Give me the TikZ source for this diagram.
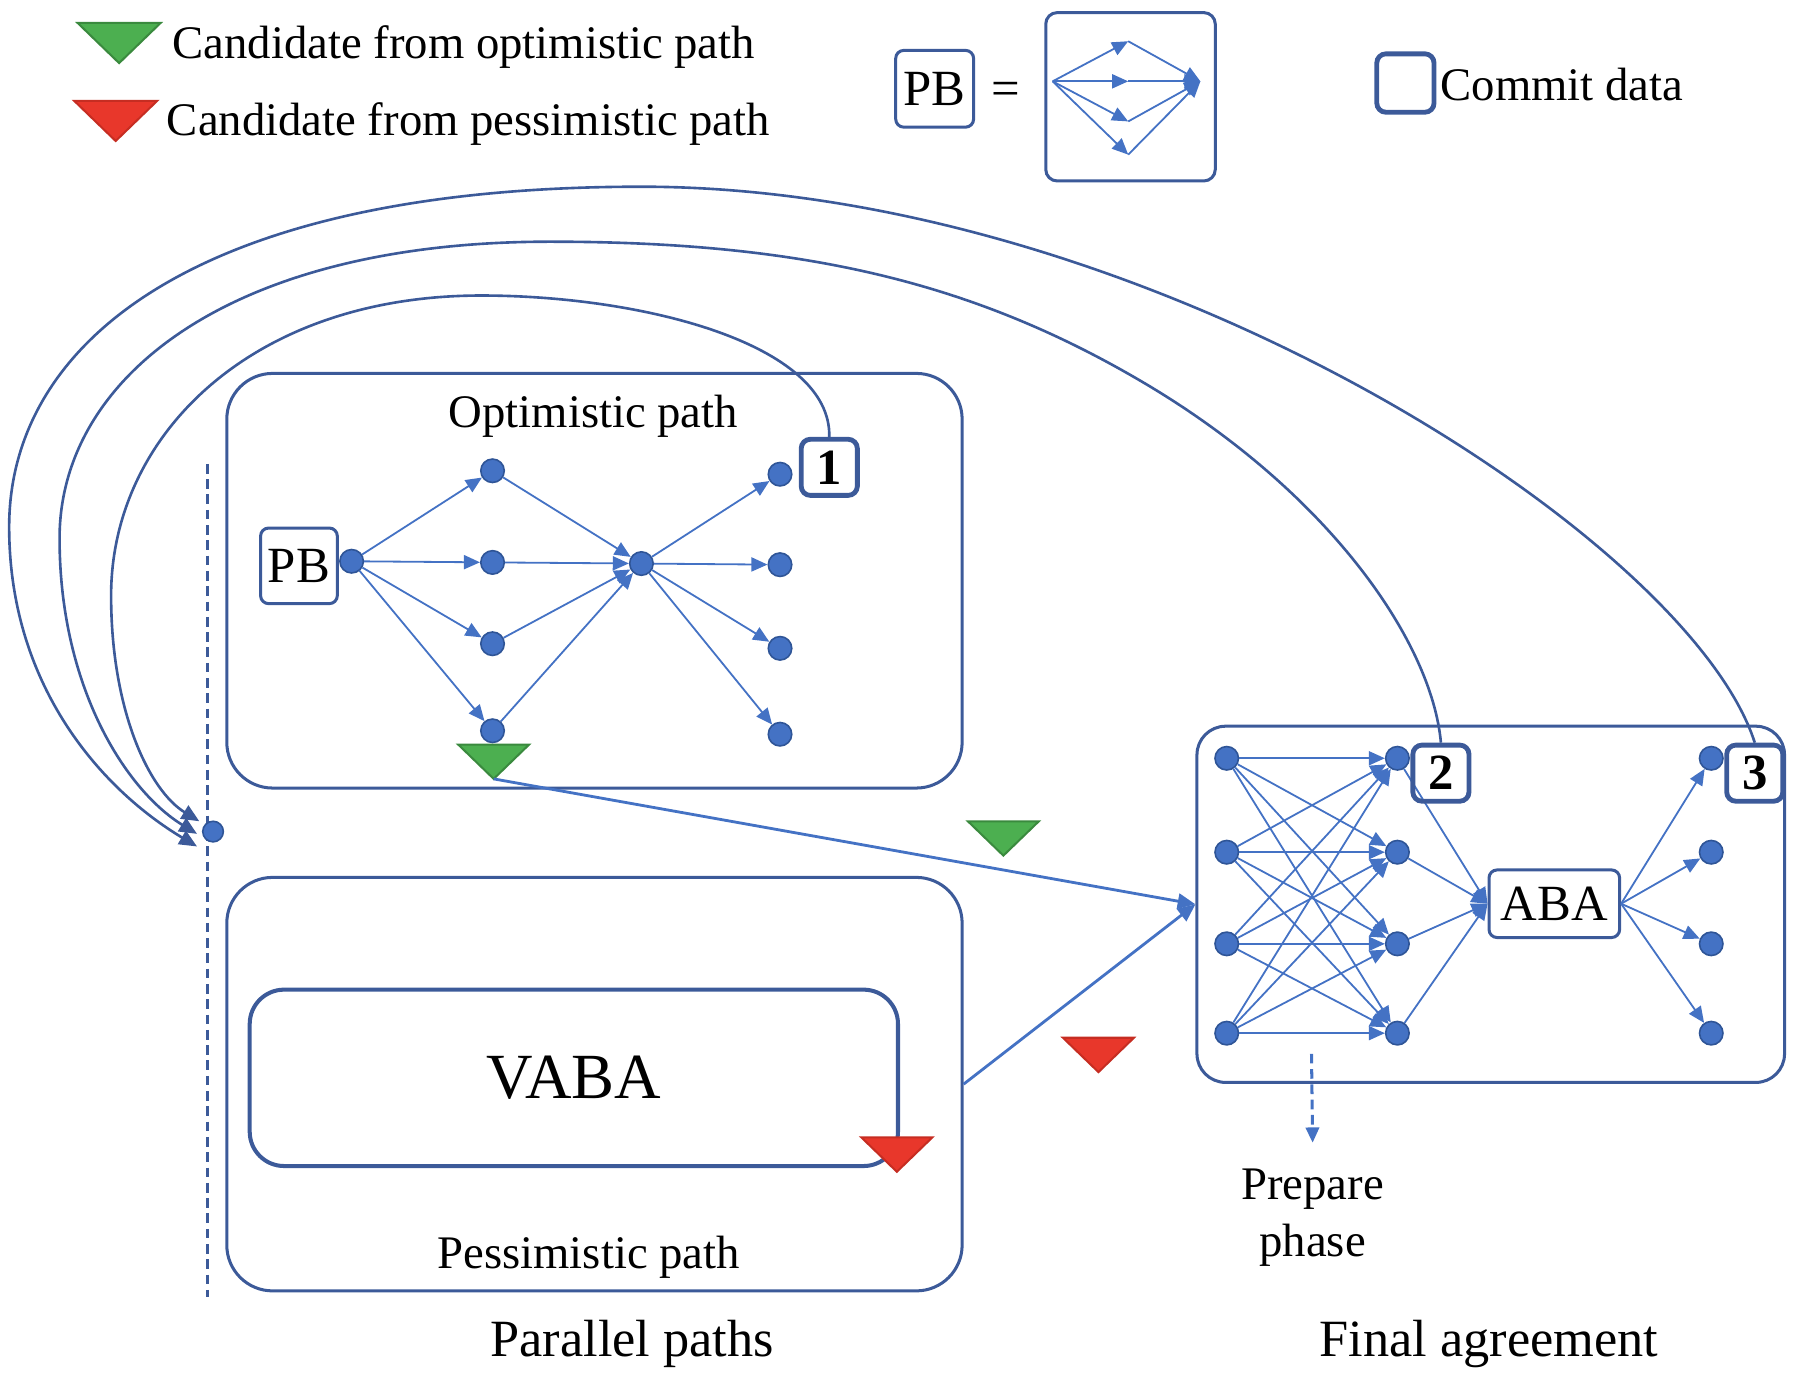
\documentclass[tikz,border=0pt]{standalone}
\usepackage{fontspec}
\setmainfont{Liberation Serif}
\usetikzlibrary{arrows.meta}
\definecolor{lineblue}{HTML}{4472C4}
\definecolor{navyline}{HTML}{3C5A99}
\definecolor{dotrim}{HTML}{2F5597}
\definecolor{candgreen}{HTML}{4CAF50}
\definecolor{candgreenrim}{HTML}{3A8A3E}
\definecolor{candred}{HTML}{E8372B}
\definecolor{candredrim}{HTML}{C62D22}
\newcommand{\boxfont}{\fontsize{12.6}{15}\selectfont}
\newcommand{\vabafont}{\fontsize{16}{18}\selectfont}
\newcommand{\capfont}{\fontsize{13}{15}\selectfont}

\begin{document}
\begin{tikzpicture}[x=0.1mm,y=-0.1mm,font=\fontsize{11.6}{14.2}\selectfont,
    dot/.style={circle,fill=lineblue,draw=dotrim,line width=0.4pt,inner sep=0pt,minimum size=2.05mm},
    link/.style={lineblue,line width=0.45pt,-{Triangle[length=4pt,width=3.5pt]}},
    panel/.style={draw=navyline,line width=0.75pt,rounded corners=4mm,inner sep=0pt},
    numbox/.style={draw=navyline,line width=1.2pt,rounded corners=0.8mm,minimum width=4.9mm,
      minimum height=4.9mm,inner sep=0pt,font=\boxfont\bfseries},
    pbbox/.style={draw=navyline,line width=0.75pt,rounded corners=0.7mm,fill=white,inner sep=0pt,font=\boxfont},
    backarc/.style={navyline,line width=0.65pt,-{Triangle[length=4.4pt,width=3.8pt]}},
    lbl/.style={inner sep=0pt},
    cand/.pic={\path[pic actions] (-31,0) -- (31,0) -- (0,30) coordinate (-tip) -- cycle;}]
  \useasboundingbox (0,0) rectangle (1568,1205);

  % legend
  \pic[fill=candgreen,draw=candgreenrim,line width=0.5pt,scale=1.17] (lg) at (104,20) {cand};
  \node[lbl,anchor=west] (lgtxt) at (150,41) {Candidate from optimistic path};
  \pic[fill=candred,draw=candredrim,line width=0.5pt,scale=1.17] (lr) at (101,88) {cand};
  \node[lbl,anchor=west] (lrtxt) at (145,108) {Candidate from pessimistic path};
  \node[pbbox,minimum width=6.8mm,minimum height=6.7mm] (pbkey) at (816,77.5) {PB};
  \node[font=\boxfont] (eq) at (878,82) {=};
  \node[panel,rounded corners=1mm,minimum width=14.8mm,minimum height=14.7mm] (pbview) at (987,84.5) {};
  \coordinate (ks) at (919,71);
  \coordinate (kt) at (1048,71);
  \foreach \y [count=\i] in {36,71,106,135}{
    \coordinate (km\i) at (985,\y);
    \draw[link] (ks) -- (km\i);
    \draw[link] (km\i) -- (kt);}
  \node[numbox,minimum width=5mm,minimum height=5.1mm] (cbox) at (1227,72.5) {};
  \node[lbl,anchor=west] (ctxt) at (1257,74) {Commit data};

  % divider between the paths
  \coordinate (divtop) at (181,405);
  \coordinate (divbot) at (181,1132);
  \draw[navyline,line width=0.75pt,dash pattern=on 2.4pt off 1.4pt] (divtop) -- (divbot);
  \node[dot,minimum size=1.8mm] (join) at (186,726) {};
  \coordinate (in1) at (174,717);
  \coordinate (in2) at (172,728);
  \coordinate (in3) at (172,739);

  % optimistic path
  \node[panel,minimum width=64.2mm,minimum height=36.2mm] (opt) at (519,507) {};
  \node[lbl] (opttitle) at (518,363) {Optimistic path};
  \node[pbbox,minimum width=6.7mm,minimum height=6.6mm] (pb) at (261,494) {PB};
  \node[dot] (s) at (307,490) {};
  \foreach \y [count=\i] in {411,491,562,638}
    \node[dot] (a\i) at (430,\y) {};
  \node[dot] (c) at (560,492) {};
  \foreach \y [count=\i] in {414,493,566,641}
    \node[dot] (b\i) at (681,\y) {};
  \foreach \i in {1,...,4}{
    \draw[link] (s) -- (a\i);
    \draw[link] (a\i) -- (c);
    \draw[link] (c) -- (b\i);}
  \node[numbox] (one) at (724,408) {1};
  \pic[fill=candgreen,draw=candgreenrim,line width=0.5pt] (gopt) at (431,650) {cand};

  % pessimistic path
  \node[panel,minimum width=64.2mm,minimum height=36.1mm] (pess) at (519,946.5) {};
  \node[panel,line width=1pt,rounded corners=3mm,minimum width=56.6mm,minimum height=15.4mm,
    font=\vabafont] (vaba) at (501,941) {VABA};
  \pic[fill=candred,draw=candredrim,line width=0.5pt] (rvaba) at (783,993) {cand};
  \node[lbl] (pesstitle) at (514,1098) {Pessimistic path};

  % final agreement
  \node[panel,rounded corners=2.5mm,minimum width=51.3mm,minimum height=31.1mm] (fin) at (1301.5,789.5) {};
  \foreach \y [count=\i] in {662,744,824,902}{
    \node[dot] (l\i) at (1071,\y) {};
    \node[dot] (m\i) at (1220,\y) {};
    \node[dot] (r\i) at (1494,\y) {};}
  \node[pbbox,minimum width=11.4mm,minimum height=5.9mm] (aba) at (1357,789) {ABA};
  \foreach \i in {1,...,4}{
    \foreach \j in {1,...,4}
      \draw[link] (l\i) -- (m\j);
    \draw[link] (m\i) -- (aba.west);
    \draw[link] (aba.east) -- (r\i);}
  \node[numbox] (two) at (1258,675) {2};
  \node[numbox] (three) at (1532,675) {3};
  \coordinate (prepfrom) at (1145,920);
  \node[lbl,align=center] (prep) at (1146,1063) {Prepare\\phase};
  \draw[lineblue,line width=0.75pt,dash pattern=on 2.4pt off 1.4pt,-{Triangle[length=3.8pt,width=3.3pt]}]
    (prepfrom) -- ([yshift=2.2mm]prep.north);

  % candidates into the final agreement
  \pic[fill=candgreen,draw=candgreenrim,line width=0.5pt] (gmid) at (876,717) {cand};
  \pic[fill=candred,draw=candredrim,line width=0.5pt] (rmid) at (959,906) {cand};
  \draw[lineblue,line width=0.7pt,-{Triangle[length=4.4pt,width=3.8pt]}] (gopt-tip) -- (fin.west);
  \draw[lineblue,line width=0.7pt,-{Triangle[length=4.4pt,width=3.8pt]}] (pess.east) -- (fin.west);

  % commits fed back to the start
  \draw[backarc] (one.north) .. controls (726,300) and (560,258) .. (420,258)
    .. controls (220,258) and (97,380) .. (97,520) .. controls (97,620) and (130,690) .. (in1);
  \draw[backarc] (two.north) .. controls (1250,560) and (1160,430) .. (1000,335)
    .. controls (850,246) and (700,211) .. (480,211)
    .. controls (200,211) and (52,330) .. (52,470) .. controls (52,600) and (110,690) .. (in2);
  \draw[backarc] (three.north) .. controls (1475,470) and (1000,163) .. (560,163)
    .. controls (170,163) and (8,300) .. (8,460) .. controls (8,600) and (90,690) .. (in3);

  % captions
  \node[lbl,font=\capfont] (parlbl) at (552,1173) {Parallel paths};
  \node[lbl,font=\capfont] (finlbl) at (1300,1173) {Final agreement};
\end{tikzpicture}
\end{document}
